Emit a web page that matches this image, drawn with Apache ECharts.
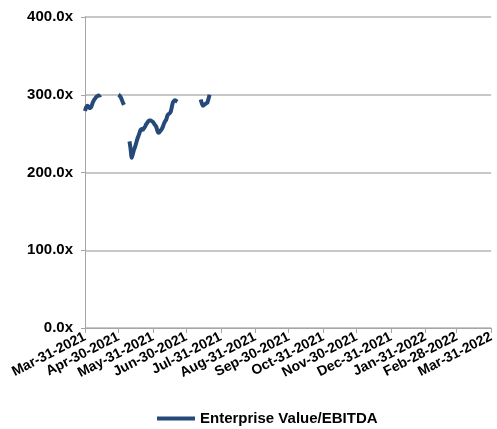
<!DOCTYPE html>
<html>
<head>
<meta charset="utf-8">
<script src="https://cdn.jsdelivr.net/npm/echarts@6/dist/echarts.min.js"></script>
<style>html,body{margin:0;padding:0;background:#fff}#c{width:497px;height:429px}</style>
</head>
<body>
<div id="c"></div>
<script>
// Axis range (category axis of calendar days)
const axisStart = '2021-03-31';
const axisEnd = '2022-03-31';
// Y tick values
const yTicks = [0, 100, 200, 300, 400];
const seriesName = 'Enterprise Value/EBITDA';
// Data segments: start date + daily values
const seg1Start = '2021-03-31';
const seg1Values = [279, 284, 286, 285, 283, 283, 286, 290, 293, 295, 297, 298, 299, 299, 300];
const seg2Start = '2021-04-30';
const seg2Values = [300, 299, 297, 294, 290, 287];
const seg3Start = '2021-05-10';
const seg3Values = [240, 230, 219, 224, 229, 233, 238, 243, 247, 251, 255, 256, 255, 257, 259, 262, 264, 266, 267, 267, 266, 265, 263, 261, 259, 254, 251, 252, 254, 256, 259, 263, 266, 268, 273, 275, 276, 278, 284, 290, 292, 293, 292, 291];
const seg4Start = '2021-07-13';
const seg4Values = [294, 289, 286, 287, 288, 289, 290, 295, 300];

const MON = ['Jan','Feb','Mar','Apr','May','Jun','Jul','Aug','Sep','Oct','Nov','Dec'];
function iso(d){return d.toISOString().slice(0,10);}
const categories = [];
for (let d = new Date(axisStart + 'T00:00:00Z'); iso(d) <= axisEnd; d.setUTCDate(d.getUTCDate()+1)) categories.push(iso(d));
const values = categories.map(() => null);
[[seg1Start, seg1Values],[seg2Start, seg2Values],[seg3Start, seg3Values],[seg4Start, seg4Values]].forEach(([s, arr]) => {
  const i0 = categories.indexOf(s);
  arr.forEach((v, k) => { values[i0 + k] = v; });
});
function isMonthEnd(idx){
  if (idx === categories.length - 1) return true;
  return categories[idx+1].slice(8,10) === '01';
}
function fmt(c){
  const [y,m,d] = c.split('-');
  return MON[+m-1] + '-' + d + '-' + y;
}
const font = 'Liberation Sans, Arial, sans-serif';
const chart = echarts.init(document.getElementById('c'), null, {renderer:'canvas'});
chart.setOption({
  animation: false,
  grid: {left: 85, right: 5, top: 17, bottom: 101, containLabel: false},
  xAxis: {
    type: 'category', data: categories, boundaryGap: false,
    axisLine: {lineStyle: {color: '#a6a6a6', width: 1}},
    axisTick: {show: true, length: 5, interval: (i) => isMonthEnd(i), lineStyle: {color: '#a6a6a6'}},
    axisLabel: {interval: (i) => isMonthEnd(i), showMinLabel: true, showMaxLabel: true, hideOverlap: false,
      rotate: 27, margin: 8, formatter: fmt,
      color: '#000', fontWeight: 'bold', fontSize: 14, fontFamily: font},
    splitLine: {show: false}
  },
  yAxis: {
    type: 'value', min: yTicks[0], max: yTicks[yTicks.length-1], interval: yTicks[1]-yTicks[0],
    axisLine: {show: true, lineStyle: {color: '#a6a6a6', width: 1}},
    axisTick: {show: true, length: 4, lineStyle: {color: '#a6a6a6'}},
    axisLabel: {formatter: (v) => v.toFixed(1) + 'x', margin: 12, color: '#000', fontWeight: 'bold', fontSize: 15, fontFamily: font},
    splitLine: {show: true, lineStyle: {color: '#b5b5b5', width: 1.5}}
  },
  legend: {
    data: [{name: seriesName, icon: 'rect'}], top: 406, left: 152,
    itemWidth: 38, itemHeight: 4, itemGap: 10,
    textStyle: {color: '#000', fontWeight: 'bold', fontSize: 15, fontFamily: font}
  },
  series: [{
    name: seriesName, type: 'line', data: values, connectNulls: false,
    showSymbol: false, symbol: 'none', smooth: 0.3,
    lineStyle: {color: '#254a7a', width: 4}, itemStyle: {color: '#254a7a'}
  }]
});
</script>
</body>
</html>
